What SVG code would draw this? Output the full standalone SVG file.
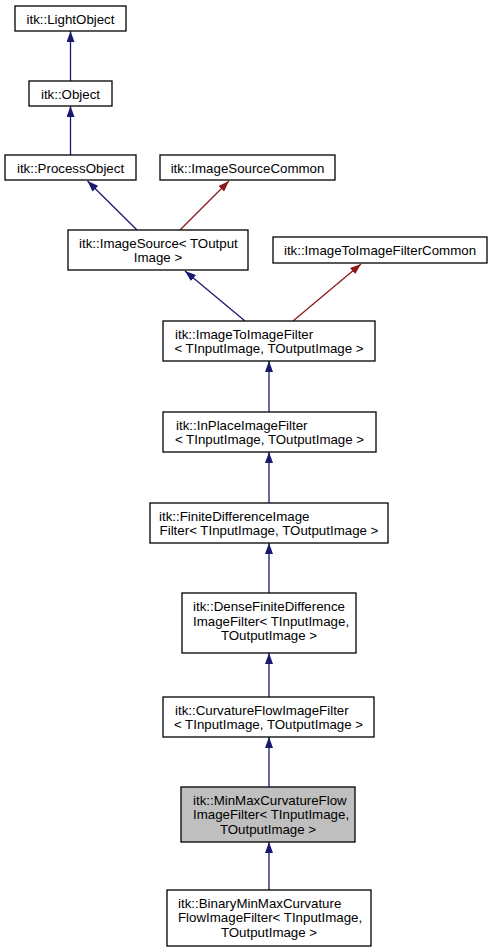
<svg xmlns="http://www.w3.org/2000/svg" width="492" height="952" viewBox="0 0 492 952">
<style>
.n rect{fill:#fff;stroke:#000;stroke-width:1.3}
.n.cur rect{fill:#bfbfbf}
text{font-family:"Liberation Sans",Arial,sans-serif;font-size:13.3px;fill:#000}
.c{text-anchor:middle}
.e{fill:none;stroke-width:1.3}
.b{stroke:#191970}
.r{stroke:#8b1a1a}
</style>
<defs>
<marker id="ab" markerUnits="userSpaceOnUse" markerWidth="11" markerHeight="8" refX="11" refY="4" orient="auto" viewBox="0 0 11 8"><path d="M0,0 L11,4 L0,8 z" fill="#191970"/></marker>
<marker id="ar" markerUnits="userSpaceOnUse" markerWidth="11" markerHeight="8" refX="11" refY="4" orient="auto" viewBox="0 0 11 8"><path d="M0,0 L11,4 L0,8 z" fill="#8b1a1a"/></marker>
</defs>
<rect width="492" height="952" fill="#fff"/>
<g id="edges">
<path class="e b" d="M70.5,81 L70.5,31" marker-end="url(#ab)"/>
<path class="e b" d="M70.5,155 L70.5,106" marker-end="url(#ab)"/>
<path class="e b" d="M137,230 L87.5,181" marker-end="url(#ab)"/>
<path class="e r" d="M180,230 L229,181" marker-end="url(#ar)"/>
<path class="e b" d="M245,321 L185,271" marker-end="url(#ab)"/>
<path class="e r" d="M293,321 L361,264" marker-end="url(#ar)"/>
<path class="e b" d="M269,412 L269,361" marker-end="url(#ab)"/>
<path class="e b" d="M269,503 L269,452" marker-end="url(#ab)"/>
<path class="e b" d="M269,593 L269,543" marker-end="url(#ab)"/>
<path class="e b" d="M269,697 L269,653" marker-end="url(#ab)"/>
<path class="e b" d="M269,787 L269,737" marker-end="url(#ab)"/>
<path class="e b" d="M269,890 L269,842" marker-end="url(#ab)"/>
</g>
<g id="LightObject" class="n"><rect x="15" y="6" width="111" height="25"/><text class="c" x="70.5" y="23.5">itk::LightObject</text></g>
<g id="Object" class="n"><rect x="29" y="81" width="83" height="25"/><text class="c" x="70.5" y="98.5">itk::Object</text></g>
<g id="ProcessObject" class="n"><rect x="5" y="155" width="131" height="25"/><text class="c" x="70.5" y="172.5">itk::ProcessObject</text></g>
<g id="ImageSourceCommon" class="n"><rect x="160" y="155" width="175" height="25"/><text class="c" x="247.5" y="172.5">itk::ImageSourceCommon</text></g>
<g id="ImageSource" class="n"><rect x="68" y="230" width="180" height="40"/><text x="79" y="247.5">itk::ImageSource&lt; TOutput</text><text class="c" x="158" y="262">Image &gt;</text></g>
<g id="ImageToImageFilterCommon" class="n"><rect x="273" y="237" width="214" height="26"/><text class="c" x="380" y="255">itk::ImageToImageFilterCommon</text></g>
<g id="ImageToImageFilter" class="n"><rect x="163" y="321" width="212" height="40"/><text x="175" y="338.5">itk::ImageToImageFilter</text><text class="c" x="269" y="353">&lt; TInputImage, TOutputImage &gt;</text></g>
<g id="InPlaceImageFilter" class="n"><rect x="163" y="412" width="213" height="40"/><text x="176" y="429.5">itk::InPlaceImageFilter</text><text class="c" x="269.5" y="444">&lt; TInputImage, TOutputImage &gt;</text></g>
<g id="FiniteDifferenceImageFilter" class="n"><rect x="150" y="503" width="238" height="40"/><text x="159" y="520.5">itk::FiniteDifferenceImage</text><text class="c" x="269" y="535">Filter&lt; TInputImage, TOutputImage &gt;</text></g>
<g id="DenseFiniteDifferenceImageFilter" class="n"><rect x="182" y="593" width="174" height="60"/><text x="193" y="611">itk::DenseFiniteDifference</text><text x="193" y="625.5">ImageFilter&lt; TInputImage,</text><text class="c" x="269" y="640">TOutputImage &gt;</text></g>
<g id="CurvatureFlowImageFilter" class="n"><rect x="163" y="697" width="211" height="40"/><text x="175" y="714.5">itk::CurvatureFlowImageFilter</text><text class="c" x="268.5" y="729">&lt; TInputImage, TOutputImage &gt;</text></g>
<g id="MinMaxCurvatureFlowImageFilter" class="n cur"><rect x="181" y="787" width="174" height="55"/><text x="193" y="804.5">itk::MinMaxCurvatureFlow</text><text x="193" y="819">ImageFilter&lt; TInputImage,</text><text class="c" x="268" y="833.5">TOutputImage &gt;</text></g>
<g id="BinaryMinMaxCurvatureFlowImageFilter" class="n"><rect x="167" y="890" width="204" height="56"/><text x="178" y="907.5">itk::BinaryMinMaxCurvature</text><text x="178" y="922">FlowImageFilter&lt; TInputImage,</text><text class="c" x="269" y="936.5">TOutputImage &gt;</text></g>
</svg>
